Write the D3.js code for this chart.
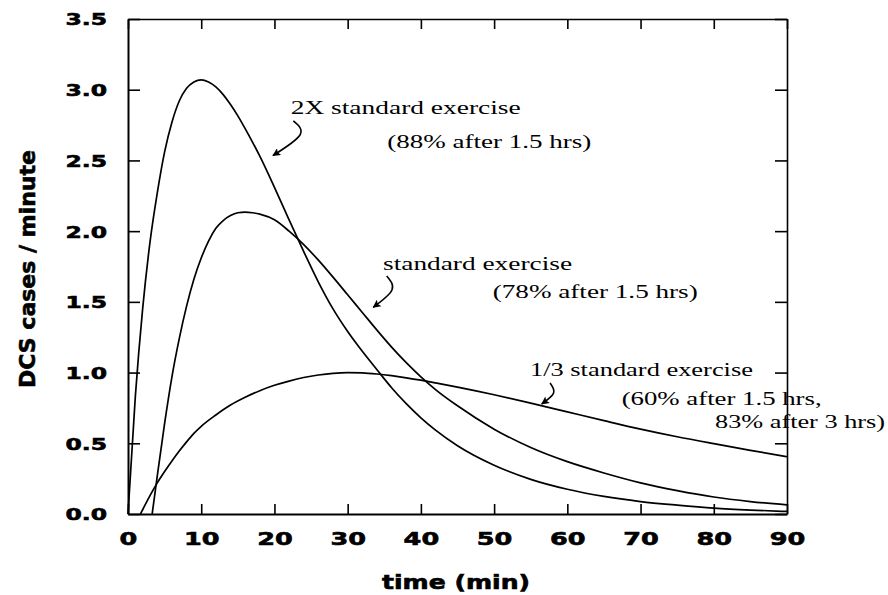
<!DOCTYPE html>
<html><head><meta charset="utf-8">
<script src="https://cdn.jsdelivr.net/npm/d3@7"></script>
<style>body{margin:0;background:#fff} svg{display:block}</style>
</head><body><svg id="chart" width="888" height="595"></svg>
<script>
// ---- data ----
const xTicks = [0,10,20,30,40,50,60,70,80,90];
const xTickLabels = ["0","10","20","30","40","50","60","70","80","90"];
const yTicks = [0,0.5,1,1.5,2,2.5,3,3.5];
const yTickLabels = ["0.0","0.5","1.0","1.5","2.0","2.5","3.0","3.5"];
const xTitle = "time (min)";
const yTitle = "DCS cases / minute";

const timeTwoX = [0,1,2,3,4,5,6,7,8,9,10,11,12,13,14,15,16,17,18,20,22,24,26,28,30,32,34,36,38,40,42,45,50,55,60,65,70,75,80,85,90];
const twoXStandard = [0,0.83,1.45,1.92,2.27,2.56,2.77,2.92,3.01,3.055,3.07,3.055,3.02,2.965,2.895,2.815,2.725,2.63,2.53,2.31,2.08,1.855,1.64,1.45,1.29,1.15,1.02,0.893,0.78,0.68,0.593,0.483,0.345,0.245,0.175,0.124,0.088,0.063,0.042,0.028,0.018];

const timeStandard = [3.3,4,5,6,7,8,9,10,11,12,13,14,15,16,17,18,20,22,24,26,28,30,32,34,36,38,40,42,45,50,55,60,65,70,75,80,85,90];
const standard = [0,0.27,0.64,0.97,1.24,1.47,1.66,1.81,1.93,2.02,2.075,2.11,2.13,2.135,2.13,2.12,2.08,2.0,1.905,1.795,1.675,1.55,1.425,1.30,1.18,1.07,0.97,0.88,0.765,0.60,0.47,0.37,0.29,0.22,0.165,0.12,0.088,0.064];

const timeOneThird = [1.7,2,3,4,5,6,7,8,9,10,12,14,16,18,20,22,24,26,28,30,32,34,36,38,40,42,45,50,55,60,65,70,75,80,85,90];
const oneThird = [0,0.03,0.13,0.22,0.30,0.375,0.445,0.51,0.57,0.62,0.70,0.77,0.825,0.872,0.91,0.94,0.965,0.983,0.995,1.0,0.998,0.99,0.978,0.963,0.946,0.927,0.897,0.843,0.784,0.722,0.66,0.60,0.546,0.497,0.45,0.405];

// annotation texts
const annoTexts = ["2X standard exercise","(88% after 1.5 hrs)","standard exercise","(78% after 1.5 hrs)","1/3 standard exercise","(60% after 1.5 hrs,","83% after 3 hrs)"];
const annoT = [22.22,35.41,34.83,49.81,54.9,67.42,80.17];
const annoV = [2.828,2.588,1.725,1.527,0.976,0.771,0.606];
const annoW = [230,204,189,205,223,200,170];
// arrows: start, bulge, tip (t, value)
const arrowPts = [
  [[22.58,2.779],[23.49,2.68],[19.80,2.535]],
  [[35.33,1.683],[36.05,1.584],[33.50,1.462]],
  [[57.64,0.926],[58.12,0.855],[56.50,0.778]]
];

// ---- chart ----
const svg = d3.select("#chart");
const x = d3.scaleLinear().domain([0,90]).range([128,787]);
const y = d3.scaleLinear().domain([0,3.5]).range([514,19]);
const SX = 1.42;

function styleAxis(g){
  g.select(".domain").attr("stroke","#000").attr("stroke-width",2);
  g.selectAll(".tick line").attr("stroke","#000").attr("stroke-width",1.6);
}
function boldFont(sel, size){
  sel.attr("fill","#000").attr("stroke","#000").attr("stroke-width",0.6)
    .style("font-family","'DejaVu Sans', sans-serif").style("font-weight","bold").style("font-size",size+"px");
}

const gBottom = svg.append("g").attr("transform","translate(0,514)")
  .call(d3.axisBottom(x).tickValues(xTicks).tickSize(-10).tickSizeOuter(0)
        .tickFormat((d,i)=>xTickLabels[i]));
styleAxis(gBottom);
gBottom.selectAll(".tick text")
  .attr("y",null).attr("dy",null)
  .attr("transform",`translate(0,31) scale(${SX},1)`)
  .attr("text-anchor","middle")
  .call(boldFont, 18);

const gLeft = svg.append("g").attr("transform","translate(128,0)")
  .call(d3.axisLeft(y).tickValues(yTicks).tickSize(-12).tickSizeOuter(0)
        .tickFormat((d,i)=>yTickLabels[i]));
styleAxis(gLeft);
gLeft.selectAll(".tick text")
  .attr("x",null).attr("dy","0.36em")
  .attr("transform",`translate(-21,0) scale(${SX},1)`)
  .attr("text-anchor","end")
  .call(boldFont, 16.5);

const gTop = svg.append("g").attr("transform","translate(0,19)")
  .call(d3.axisTop(x).tickValues(xTicks).tickSize(-10).tickSizeOuter(0).tickFormat(""));
styleAxis(gTop);
gTop.select(".domain").attr("stroke-width",1.6);
const gRight = svg.append("g").attr("transform","translate(787,0)")
  .call(d3.axisRight(y).tickValues(yTicks).tickSize(-12).tickSizeOuter(0).tickFormat(""));
styleAxis(gRight);
gRight.select(".domain").attr("stroke-width",1.6);

// titles
svg.append("text").attr("x",456).attr("y",589).attr("text-anchor","middle")
  .attr("textLength",148).attr("lengthAdjust","spacingAndGlyphs")
  .call(boldFont, 19)
  .text(xTitle);
svg.append("text").attr("transform","translate(35,269) rotate(-90)").attr("text-anchor","middle")
  .attr("textLength",238).attr("lengthAdjust","spacingAndGlyphs")
  .call(boldFont, 21)
  .text(yTitle);

// curves
const line = d3.line().x(d=>x(d[0])).y(d=>y(d[1])).curve(d3.curveMonotoneX);
const series = [
  d3.zip(timeTwoX, twoXStandard),
  d3.zip(timeStandard, standard),
  d3.zip(timeOneThird, oneThird)
];
svg.append("g").selectAll("path").data(series).join("path")
  .attr("d", line).attr("fill","none").attr("stroke","#000").attr("stroke-width",1.7)
  .attr("stroke-linejoin","round");

// annotations
svg.append("g").selectAll("text").data(annoTexts).join("text")
  .attr("x",(d,i)=>x(annoT[i])).attr("y",(d,i)=>y(annoV[i]))
  .attr("textLength",(d,i)=>annoW[i]).attr("lengthAdjust","spacingAndGlyphs")
  .style("font-family","'Liberation Serif', 'Times New Roman', serif").style("font-size","19px")
  .attr("fill","#000")
  .text(d=>d);

svg.append("defs").append("marker").attr("id","ah")
  .attr("viewBox","0 0 10 10").attr("refX",9).attr("refY",5)
  .attr("markerWidth",10).attr("markerHeight",8).attr("markerUnits","userSpaceOnUse")
  .attr("orient","auto")
  .append("path").attr("d","M0,0 L10,5 L0,10 L2,5 Z").attr("fill","#000");

const arrowLine = d3.line().x(d=>x(d[0])).y(d=>y(d[1])).curve(d3.curveNatural);
svg.append("g").selectAll("path").data(arrowPts).join("path")
  .attr("d", arrowLine).attr("fill","none").attr("stroke","#000").attr("stroke-width",1.6)
  .attr("marker-end","url(#ah)");
</script></body></html>
